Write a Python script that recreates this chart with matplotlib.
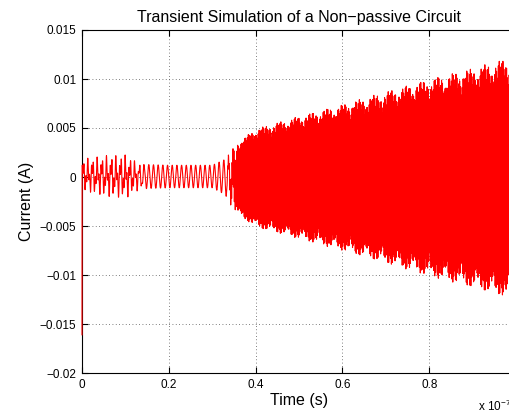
import numpy as np
import matplotlib
matplotlib.use("Agg")
import matplotlib.pyplot as plt

plt.rcParams['font.family'] = ['Liberation Sans', 'DejaVu Sans']

# Envelope of the current (time in units of 1e-7 s)
env_t = [0.0, 0.05, 0.10, 0.13, 0.20, 0.30, 0.33, 0.35, 0.40, 0.50, 0.60, 0.70, 0.80, 0.90, 0.98]
env_upper = [0.0016, 0.0019, 0.0020, 0.0013, 0.0012, 0.0012, 0.0018, 0.0032, 0.0049, 0.0062, 0.0074, 0.0087, 0.0100, 0.0111, 0.0121]
env_lower = [-0.0012, -0.0017, -0.0019, -0.0012, -0.0011, -0.0011, -0.0018, -0.0035, -0.0051, -0.0063, -0.0075, -0.0088, -0.0101, -0.0113, -0.0123]
# low-frequency ringing weight (early part) vs high-frequency growth
slow_t = [0.0, 0.13, 0.33, 0.36]
slow_w = [1.0, 1.0, 1.0, 0.0]
noise_t = [0.0, 0.12, 0.15]
noise_w = [1.0, 1.0, 0.0]
i_start = -0.0161
slow_period = 0.0108
fast_period = 0.00208

t = np.arange(0.0, 0.985, 0.00035)
up = np.interp(t, env_t, env_upper)
lo = np.interp(t, env_t, env_lower)
mid = (up + lo) / 2
amp = (up - lo) / 2
ws = np.interp(t, slow_t, slow_w)
wn = np.interp(t, noise_t, noise_w)
slow = np.sin(2 * np.pi * t / slow_period)
harm = 0.8 * np.sin(2 * np.pi * t / 0.0043 + 1.0) * wn
slow = (slow + harm) / (1 + 0.55 * wn)
fast = np.sin(2 * np.pi * t / fast_period) * (0.86 + 0.14 * np.abs(np.sin(2 * np.pi * t / 0.0165)))
y = mid + amp * (ws * slow + (1 - ws) * fast)
y[0] = i_start

fig = plt.figure(figsize=(5.10, 4.15), dpi=100)
ax = fig.add_axes([82/510, 42/415, (516-82)/510, (373-30)/415])
ax.plot(t, y, color='#ff0000', lw=0.8, zorder=3, clip_on=False)

ax.set_xlim(0, 1)
ax.set_ylim(-0.02, 0.015)
xt = [0, 0.2, 0.4, 0.6, 0.8, 1.0]
ax.set_xticks(xt)
ax.set_xticklabels(['0', '0.2', '0.4', '0.6', '0.8', '1'])
yt = [-0.02, -0.015, -0.01, -0.005, 0, 0.005, 0.01, 0.015]
ax.set_yticks(yt)
ax.set_yticklabels(['\u22120.02', '\u22120.015', '\u22120.01', '\u22120.005', '0', '0.005', '0.01', '0.015'])
ax.tick_params(direction='in', top=True, right=True, labelsize=8.5, length=4, pad=4)
ax.grid(True, color='#555555', linestyle=(0, (1, 3)), linewidth=0.6)
for s in ax.spines.values():
    s.set_linewidth(0.8)

ax.set_title('Transient Simulation of a Non\u2212passive Circuit', fontsize=11.5, pad=6)
ax.set_xlabel('Time (s)', fontsize=11.5, labelpad=2)
ax.set_ylabel('Current (A)', fontsize=11.5, labelpad=4)
fig.text(478/510, 1 - 406/415, 'x 10$^{\\mathregular{-7}}$', fontsize=8.5, va='center', ha='left')

fig.savefig('out.png', dpi=100)
